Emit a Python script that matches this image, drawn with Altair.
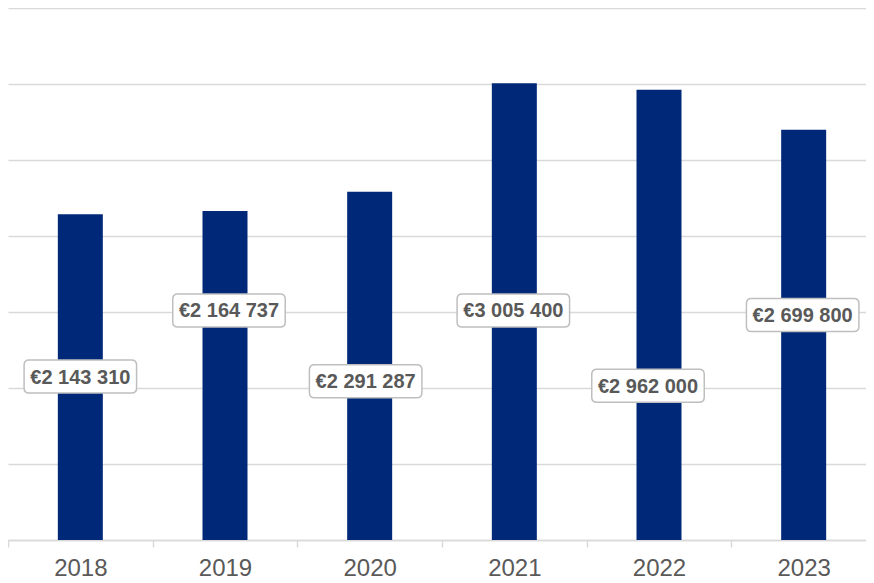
import altair as alt
import pandas as pd

years = ["2018", "2019", "2020", "2021", "2022", "2023"]
amounts = [2143310, 2164737, 2291287, 3005400, 2962000, 2699800]
# where each data label sits (in the value units of the y axis)
label_at = [1075000, 1510000, 1045000, 1510000, 1015000, 1480000]
label_dx = [0, 4, -4, -1, -11, -1]
y_ticks = [0, 500000, 1000000, 1500000, 2000000, 2500000, 3000000, 3500000]

df = pd.DataFrame({
    "year": years,
    "amount": amounts,
    "label_at": label_at,
    "dx": label_dx,
    "label": [("€{:,}".format(v)).replace(",", " ") for v in amounts],
})

FONT = "Liberation Sans"
GRID = "#d9d9d9"
W = 868
STEP = W / len(years)

x_enc = alt.X(
    "year:N",
    sort=years,
    scale=alt.Scale(paddingInner=0, paddingOuter=0),
    axis=alt.Axis(
        title=None, labelAngle=0, labelFontSize=24, labelColor="#595959",
        labelFont=FONT, labelPadding=9, tickBand="extent", ticks=True,
        tickColor=GRID, tickSize=7, tickWidth=1.5, domainColor=GRID,
        domainWidth=1.5, grid=False,
    ),
)

y_scale = alt.Scale(domain=[0, 3500000], nice=False, zero=True)

bars = alt.Chart(df).mark_bar(size=45, color="#002878").encode(
    x=x_enc,
    y=alt.Y(
        "amount:Q", scale=y_scale,
        axis=alt.Axis(title=None, labels=False, ticks=False, domain=False,
                      grid=True, gridColor=GRID, gridWidth=1.5, values=y_ticks),
    ),
)

off_scale = alt.Scale(domain=[-STEP / 2, STEP / 2], nice=False, zero=False)

box_path = ("M-0.91,-0.293 L0.91,-0.293 Q1,-0.293 1,-0.204 L1,0.204 "
            "Q1,0.293 0.91,0.293 L-0.91,0.293 Q-1,0.293 -1,0.204 "
            "L-1,-0.204 Q-1,-0.293 -0.91,-0.293 Z")

boxes = alt.Chart(df).mark_point(
    shape=box_path, size=12656, filled=True, fill="white", stroke="#bfbfbf",
    strokeWidth=1.5, opacity=1,
).encode(
    x=alt.X("year:N", sort=years),
    xOffset=alt.XOffset("dx:Q", scale=off_scale),
    y=alt.Y("label_at:Q", scale=y_scale),
)

texts = alt.Chart(df).mark_text(
    font=FONT, fontSize=20, fontWeight="bold", color="#595959",
    baseline="middle", align="center", dy=1,
).encode(
    x=alt.X("year:N", sort=years),
    xOffset=alt.XOffset("dx:Q", scale=off_scale),
    y=alt.Y("label_at:Q", scale=y_scale),
    text="label:N",
)

chart = alt.layer(bars, boxes, texts).resolve_scale(xOffset="shared").properties(
    width=W, height=532,
    autosize=alt.AutoSizeParams(type="none"),
    padding={"top": 0, "left": 0, "right": -10, "bottom": 40},
).configure_view(stroke=None)

chart.save("out.html", embed_options={"renderer": "svg", "actions": False})
